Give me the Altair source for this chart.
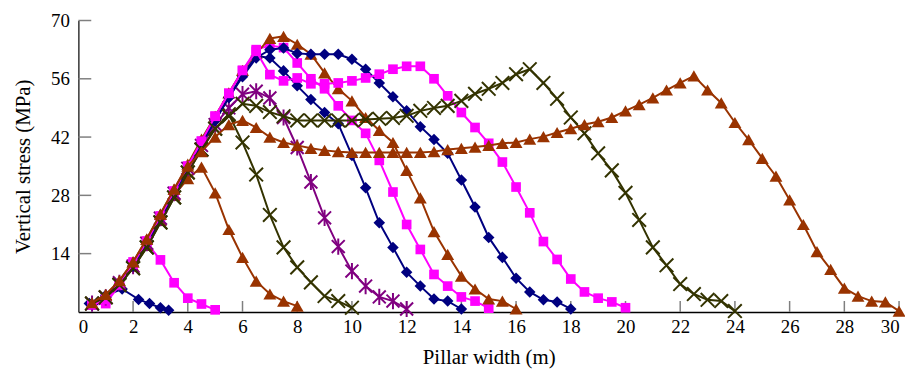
import altair as alt
import pandas as pd

# ---- data (pillar width series) ----
STEP = 0.5

w3_x = [0.4, 1.0, 1.6, 2.2, 2.6, 3.0, 3.3]
w3_y = [2.0, 4.0, 5.5, 3.0, 2.0, 1.0, 0.4]

w5_y = [1.7, 2.0, 6.4, 12.0, 16.5, 12.5, 7.0, 3.3, 1.9, 0.5]

w8_y = [2.0, 4.0, 7.0, 11.0, 16.0, 22.0, 28.0, 32.0, 34.8,
        28.6, 19.8, 13.1, 7.4, 4.3, 2.6, 1.4]

w10_y = [2.0, 3.5, 6.5, 10.5, 15.5, 21.5, 27.5, 33.5, 39.0, 44.0, 47.5,
         40.7, 33.0, 23.3, 15.5, 10.7, 7.1, 3.8, 2.6, 1.0]

w12_y = [2.0, 3.5, 7.0, 11.0, 16.5, 22.5, 28.5, 34.5, 40.0, 45.0, 49.0, 52.3, 53.0, 51.4,
         46.7, 39.5, 31.2, 22.6, 15.7, 9.8, 6.2, 3.6, 2.6, 0.7]

w14_y = [1.8, 3.5, 6.5, 11.0, 16.5, 22.5, 28.5, 34.5, 40.5, 46.0, 51.5, 57.0, 61.5,
         61.0, 57.9, 54.3, 51.0, 47.9, 45.2, 37.6, 29.8, 21.4, 15.5, 9.5, 6.2, 3.1, 2.6, 0.7]

w15_y = [1.7, 3.0, 6.5, 11.5, 17.0, 23.0, 29.0, 35.0, 41.0, 47.0, 52.5, 58.0,
         63.0, 64.0, 63.5, 59.8, 56.0, 53.6, 49.5, 46.0, 42.9, 36.4, 28.8, 21.0,
         15.0, 9.0, 6.2, 3.6, 2.6, 0.9]

w16_y = [2.0, 4.0, 7.5, 12.0, 17.5, 23.5, 29.5, 35.5, 41.5, 47.0, 52.6, 58.0, 62.1,
         65.7, 66.2, 64.3, 61.9, 57.4, 53.6, 50.7, 46.7, 43.6, 40.7, 34.0, 27.4,
         19.3, 13.8, 8.6, 5.5, 3.1, 2.6, 0.7]

w18_y = [1.8, 3.5, 6.5, 11.0, 16.5, 22.5, 28.5, 34.5, 40.5, 46.0, 51.5, 56.5, 61.0, 63.0,
         63.4, 62.1, 61.9, 61.9, 61.9, 60.7, 58.3, 55.0, 51.7, 48.3, 44.5, 41.4,
         38.1, 31.7, 25.2, 17.9, 13.1, 8.1, 4.8, 2.9, 2.4, 0.7]

w20_y = [1.7, 3.0, 6.5, 11.5, 17.0, 23.0, 29.0, 35.0, 41.0, 47.0, 52.5, 58.0,
         62.6, 57.0, 55.5, 56.2, 54.8, 54.8, 55.0, 55.5, 56.2, 57.1,
         58.3, 59.0, 59.0, 56.0, 51.9, 47.9, 44.3, 40.5, 36.0, 30.0,
         23.8, 16.9, 12.6, 7.9, 4.8, 3.3, 2.4, 1.0]

w24_y = [2.0, 3.5, 6.5, 10.5, 15.5, 21.5, 27.5, 33.5, 39.0, 44.0, 47.0,
         50.0, 49.5, 48.0, 47.0, 46.0, 46.0, 46.0, 46.0, 46.0, 46.2, 46.4, 46.6,
         47.1, 48.3, 49.0, 49.5, 50.7, 52.4, 53.6, 55.0, 57.1, 58.3, 55.0, 51.2,
         46.7, 42.9, 38.1, 34.0, 28.6, 22.1, 15.5, 11.2, 6.7, 4.3, 2.9, 2.6, 0.2]

w30_y = [2.2, 4.2, 7.5, 12.0, 17.5, 23.5, 29.5, 35.0, 38.5, 42.0, 45.0, 46.0,
         44.3, 42.0, 40.7, 40.0, 39.3, 38.8, 38.5, 38.3, 38.3, 38.3,
         38.3, 38.3, 38.3, 38.5, 39.0, 39.3, 39.6, 40.0, 40.5, 40.7,
         41.5, 42.1, 43.1, 44.0, 45.0, 45.7, 46.7, 48.3, 49.8, 51.4,
         53.3, 55.0, 56.7, 53.3, 50.2, 45.5, 41.4, 36.9, 32.6, 26.9,
         21.0, 14.5, 10.2, 5.7, 3.8, 2.6, 2.4, 0.2]

x_ticks = [0, 2, 4, 6, 8, 10, 12, 14, 16, 18, 20, 22, 24, 26, 28, 30]
y_ticks = [14, 28, 42, 56, 70]

NAVY, MAGENTA, BROWN, OLIVE, PURPLE = "#000080", "#FF00FF", "#993300", "#333300", "#800080"

series = [
    ("w3", w3_x, w3_y, NAVY, "diamond"),
    ("w5", None, w5_y, MAGENTA, "square"),
    ("w8", None, w8_y, BROWN, "triangle"),
    ("w10", None, w10_y, OLIVE, "x"),
    ("w12", None, w12_y, PURPLE, "star"),
    ("w14", None, w14_y, NAVY, "diamond"),
    ("w15", None, w15_y, MAGENTA, "square"),
    ("w16", None, w16_y, BROWN, "triangle"),
    ("w18", None, w18_y, NAVY, "diamond"),
    ("w20", None, w20_y, MAGENTA, "square"),
    ("w24", None, w24_y, OLIVE, "x"),
    ("w30", None, w30_y, BROWN, "triangle"),
]

FONT = "Liberation Serif"
xscale = alt.Scale(domain=[0, 30], nice=False, zero=False)
yscale = alt.Scale(domain=[0, 70], nice=False)

layers = []
for name, xs, ys, color, marker in series:
    if xs is None:
        xs = [STEP * (i + 1) for i in range(len(ys))]
    df = pd.DataFrame({"x": xs, "y": ys})
    base = alt.Chart(df).encode(
        x=alt.X("x:Q", scale=xscale),
        y=alt.Y("y:Q", scale=yscale),
    )
    line = base.mark_line(color=color, strokeWidth=2)
    if marker == "diamond":
        pts = base.mark_point(shape="diamond", filled=True, color=color, size=135, opacity=1)
    elif marker == "square":
        pts = base.mark_point(shape="square", filled=True, color=color, size=95, opacity=1)
    elif marker == "triangle":
        pts = base.mark_point(shape="triangle-up", filled=True, color=color, size=170, opacity=1)
    elif marker == "x":
        pts = base.mark_point(shape="M-1,-1L1,1M-1,1L1,-1", filled=False, color=color,
                              size=190, strokeWidth=2, opacity=1)
    else:
        pts = base.mark_point(shape="M-1,-1L1,1M-1,1L1,-1M0,-1.25L0,1.25", filled=False,
                              color=color, size=170, strokeWidth=2, opacity=1)
    layers += [line, pts]

xt = alt.Chart(pd.DataFrame({"t": x_ticks[1:]})).mark_rule(color="#7f7f7f", strokeWidth=1.5).encode(
    x=alt.X("t:Q", scale=xscale), y=alt.value(294), y2=alt.value(283))
yt = alt.Chart(pd.DataFrame({"t": y_ticks})).mark_rule(color="#7f7f7f", strokeWidth=1.5).encode(
    y=alt.Y("t:Q", scale=yscale), x=alt.value(0), x2=alt.value(13))

axes = alt.Chart(pd.DataFrame({"x": [0], "y": [0]})).mark_point(opacity=0).encode(
    x=alt.X("x:Q", scale=xscale, title="Pillar width (m)",
            axis=alt.Axis(values=x_ticks, ticks=False, tickSize=0, grid=False,
                          labelFont=FONT, labelFontSize=19, labelColor="black",
                          labelPadding=6, titleFont=FONT, titleFontSize=21,
                          titleFontWeight="normal", titleColor="black", titlePadding=10,
                          domainColor="black", domainWidth=1.5)),
    y=alt.Y("y:Q", scale=yscale, title="Vertical stress (MPa)",
            axis=alt.Axis(values=y_ticks, ticks=False, tickSize=0, grid=False,
                          labelFont=FONT, labelFontSize=19, labelColor="black",
                          labelPadding=9, titleFont=FONT, titleFontSize=21,
                          titleFontWeight="normal", titleColor="black", titlePadding=17,
                          domainColor="#333333", domainWidth=1.5)),
)

chart = alt.layer(axes, xt, yt, *layers).properties(
    width=828, height=294,
    padding={"left": 71, "top": 11, "right": 6, "bottom": 58},
    autosize=alt.AutoSizeParams(type="none"),
).configure_view(stroke=None)

chart.save("out.html", embed_options={"renderer": "svg", "actions": False})
